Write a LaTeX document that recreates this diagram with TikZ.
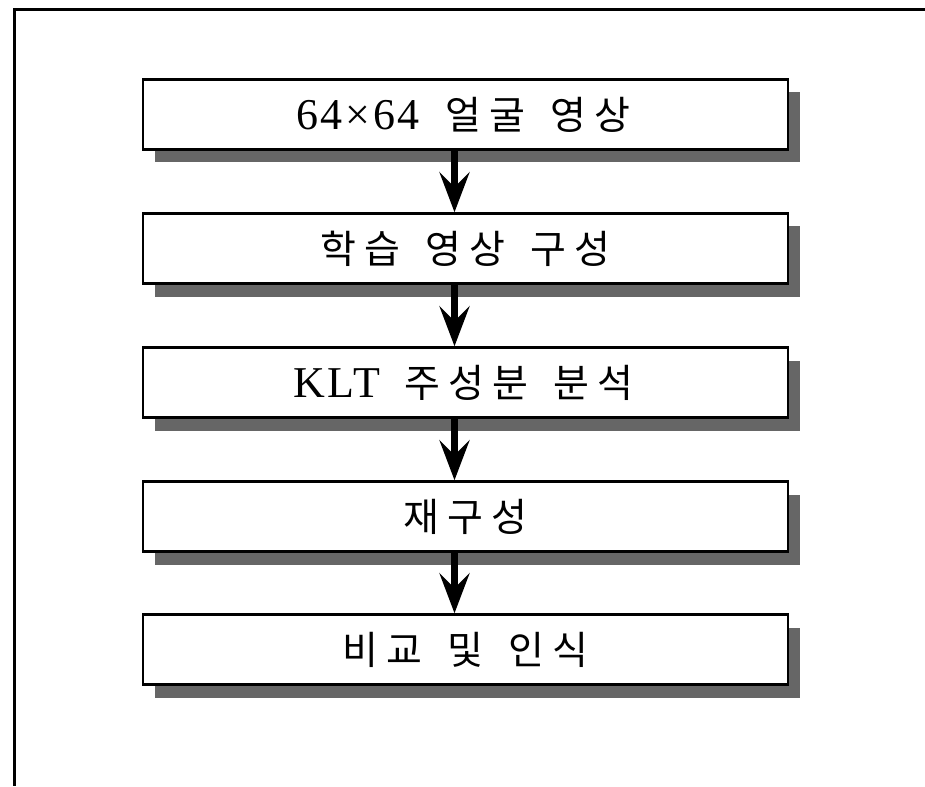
\documentclass[tikz,border=0pt]{standalone}
\usepackage{fontspec}
\setmainfont{Liberation Serif}
\newfontfamily\kofont{Noto Sans CJK KR}
\newfontfamily\latfont[LetterSpace=6]{Liberation Serif}
\usetikzlibrary{arrows.meta,shadows}
\newcommand\sy[1]{\makebox[44pt]{#1}}
\newcommand\wg{\hspace{17pt}}
\newcommand\lt[1]{{\fontsize{44}{48}\selectfont\latfont #1}}
\begin{document}
\begin{tikzpicture}[x=1pt,y=-1pt,
  flowbox/.style={draw=black, line width=2.5pt, fill=white,
    minimum width=645pt, minimum height=70pt, inner sep=0pt,
    font=\fontsize{39}{42}\selectfont\kofont,
    general shadow={fill=black!60, shadow xshift=12pt, shadow yshift=-13pt}},
  flow/.style={line width=7pt, -{Stealth[length=40pt,width=30pt,inset=15pt]}},
  frameline/.style={line width=3pt}]
\useasboundingbox (0,0) rectangle (925,786);
\draw[frameline] (925,10) -- (14,10) -- (14,786);

\node[flowbox] (b1) at (465.5,114.5) {\lt{64×64}\hspace{22pt}\sy{얼}\sy{굴}\wg\sy{영}\sy{상}};
\node[flowbox] (b2) at (465.5,248.5) {\sy{학}\sy{습}\wg\sy{영}\sy{상}\wg\sy{구}\sy{성}};
\node[flowbox] (b3) at (465.5,382.5) {\lt{KLT}\hspace{20pt}\sy{주}\sy{성}\sy{분}\wg\sy{분}\sy{석}};
\node[flowbox] (b4) at (465.5,516.5) {\sy{재}\sy{구}\sy{성}};
\node[flowbox] (b5) at (465.5,649.5) {\sy{비}\sy{교}\wg\sy{및}\wg\sy{인}\sy{식}};

\draw[flow] ([xshift=-11pt]b1.south) -- ([xshift=-11pt]b2.north);
\draw[flow] ([xshift=-11pt]b2.south) -- ([xshift=-11pt]b3.north);
\draw[flow] ([xshift=-11pt]b3.south) -- ([xshift=-11pt]b4.north);
\draw[flow] ([xshift=-11pt]b4.south) -- ([xshift=-11pt]b5.north);
\end{tikzpicture}
\end{document}
